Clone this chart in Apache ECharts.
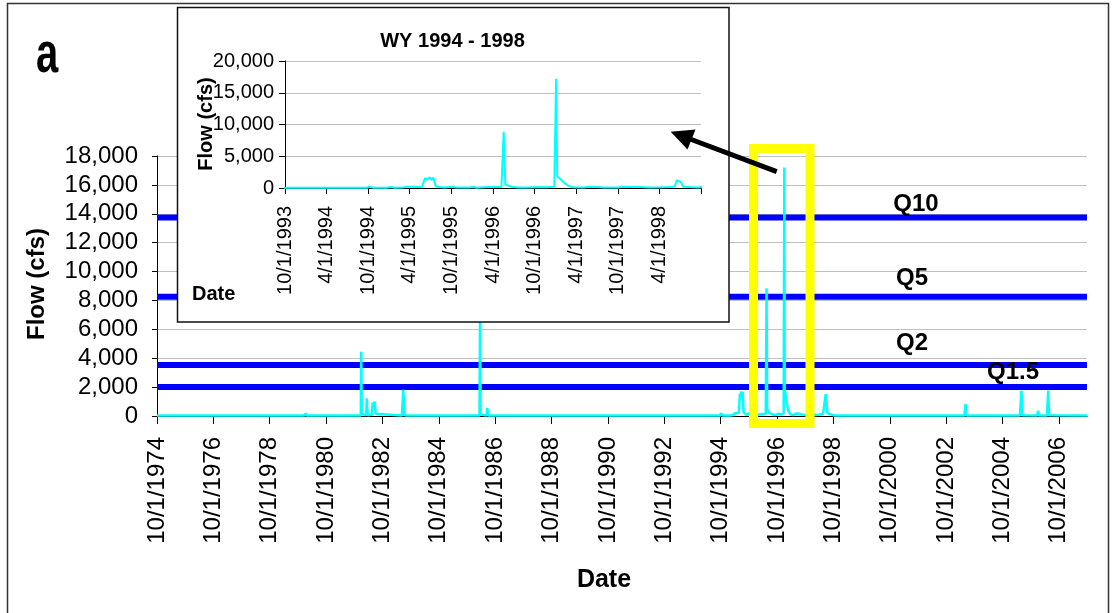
<!DOCTYPE html>
<html><head><meta charset="utf-8">
<script src="https://cdn.jsdelivr.net/npm/echarts@6/dist/echarts.min.js"></script>
<style>html,body{margin:0;padding:0;background:#fff}#c{width:1112px;height:613px}</style>
</head><body><div id="c"></div>
<script>
// ---- data ----
const flowDates = [
 '1974-10-01','1977-03-01','1979-12-20','1980-01-10','1980-01-25',
 '1981-12-24','1981-12-30','1982-01-05','1982-01-20','1982-03-05','1982-03-12','1982-03-22',
 '1982-05-15','1982-05-28','1982-06-08','1982-06-22','1982-07-05','1982-07-25',
 '1983-06-10','1983-06-28','1983-07-15','1983-08-10',
 '1986-03-12','1986-03-19','1986-03-26','1986-04-10','1986-06-12','1986-06-21','1986-07-01',
 '1993-10-01','1994-09-25','1994-10-05','1994-10-25','1994-12-20','1995-01-10','1995-01-25',
 '1995-03-01','1995-03-15','1995-04-10','1995-05-05','1995-05-25','1995-06-08','1995-06-18',
 '1995-06-28','1995-07-06','1995-07-14','1995-07-25','1995-08-10','1995-09-01','1995-10-05',
 '1995-10-25','1995-12-15','1996-01-05','1996-01-20','1996-02-20','1996-03-10','1996-04-05',
 '1996-05-08','1996-05-18','1996-05-25','1996-06-08','1996-06-25','1996-07-20','1996-09-01',
 '1996-10-15','1996-11-20','1996-12-26','1997-01-03','1997-01-08','1997-01-20','1997-02-05',
 '1997-02-25','1997-03-20','1997-05-01','1997-06-01','1997-07-10','1997-08-01','1997-10-01',
 '1997-10-20','1997-12-01','1998-01-10','1998-02-15','1998-04-10','1998-05-20','1998-06-08',
 '1998-06-17','1998-06-25','1998-07-05','1998-07-15','1998-08-10','1998-09-20','1998-10-01',
 '1998-10-20','2003-05-25','2003-06-10','2003-06-22','2005-05-15','2005-06-03','2005-06-15',
 '2005-12-25','2006-01-05','2006-01-15','2006-05-01','2006-05-16','2006-05-28','2007-09-30'
];
const flowValues = [
 30,40,30,180,30,
 40,4450,150,40,50,1230,60,
 80,950,600,1000,150,30,
 40,1810,60,30,
 40,7500,100,40,40,560,40,
 30,30,200,40,40,150,40,
 60,180,200,160,200,1550,1300,
 1700,1250,1650,250,150,80,200,
 60,60,150,50,120,160,140,
 150,8850,500,350,200,80,60,
 150,100,180,17200,1800,1450,900,
 350,120,60,180,150,60,60,
 180,140,160,60,100,160,250,
 1250,1520,900,200,150,80,150,
 40,40,840,40,40,1740,60,
 40,370,40,40,1760,60,30
];
const mainTickDates = ['1974-10-01','1976-10-01','1978-10-01','1980-10-01','1982-10-01','1984-10-01',
 '1986-10-01','1988-10-01','1990-10-01','1992-10-01','1994-10-01','1996-10-01','1998-10-01',
 '2000-10-01','2002-10-01','2004-10-01','2006-10-01'];
const mainRange = ['1974-10-01','2007-10-01'];
const insetTickDates = ['1993-10-01','1994-04-01','1994-10-01','1995-04-01','1995-10-01','1996-04-01',
 '1996-10-01','1997-04-01','1997-10-01','1998-04-01','1998-10-01'];
const insetLabelDates = ['1993-10-01','1994-04-01','1994-10-01','1995-04-01','1995-10-01','1996-04-01',
 '1996-10-01','1997-04-01','1997-10-01','1998-04-01'];
const insetRange = ['1993-10-01','1998-10-01'];
const qNames = ['Q10','Q5','Q2','Q1.5'];
const qValues = [13750, 8250, 3530, 2000];

// ---- helpers ----
function ts(s){const p=s.split('-').map(Number);return Date.UTC(p[0],p[1]-1,p[2]);}
function fmtDate(v){const d=new Date(v);return (d.getUTCMonth()+1)+'/'+d.getUTCDate()+'/'+d.getUTCFullYear();}
function fmtNum(v){return Math.round(v).toLocaleString('en-US');}
const FONT = "'Liberation Sans', Arial, sans-serif";
const seriesData = flowDates.map((d,i)=>[ts(d), flowValues[i]]);
const xMin = ts(mainRange[0]), xMax = ts(mainRange[1]);

const chart = echarts.init(document.getElementById('c'), null, {renderer:'canvas'});

const qSeries = qValues.map((v,i)=>({
  name:qNames[i], type:'line', xAxisIndex:0, yAxisIndex:0, z:1,
  data:[[xMin,v],[xMax,v]], showSymbol:false, silent:true,
  lineStyle:{color:'#0000ff', width:6}
}));

const qLabelPos = [[916,204],[912,278],[912,343],[1013,372]];

const option = {
  backgroundColor:'#fff',
  animation:false,
  textStyle:{fontFamily:FONT},
  grid:[
    {left:157, top:156, width:930, height:260, outerBoundsMode:'none', containLabel:false},
    {left:285, top:61, width:416, height:127, outerBoundsMode:'none', containLabel:false, z:20}
  ],
  xAxis:[
    {type:'value', gridIndex:0, min:xMin, max:xMax,
     axisLine:{show:true, onZero:false, lineStyle:{color:'#000', width:1}},
     axisTick:{show:true, length:8, lineStyle:{color:'#000'}, customValues:mainTickDates.map(ts)},
     axisLabel:{show:true, rotate:90, margin:21, fontSize:24, color:'#000', fontFamily:FONT,
       customValues:mainTickDates.map(ts), formatter:fmtDate},
     splitLine:{show:false}},
    {type:'value', gridIndex:1, min:ts(insetRange[0]), max:ts(insetRange[1]), z:20,
     axisLine:{show:true, onZero:false, lineStyle:{color:'#000', width:1}},
     axisTick:{show:true, length:6, lineStyle:{color:'#000'}, customValues:insetTickDates.map(ts)},
     axisLabel:{show:true, rotate:90, margin:18, fontSize:20, color:'#000', fontFamily:FONT,
       customValues:insetLabelDates.map(ts), formatter:fmtDate},
     splitLine:{show:false}}
  ],
  yAxis:[
    {type:'value', gridIndex:0, min:0, max:18000, interval:2000,
     axisLine:{show:true, lineStyle:{color:'#000', width:1}},
     axisTick:{show:true, length:5, lineStyle:{color:'#000'}},
     axisLabel:{show:true, margin:19, fontSize:24, color:'#000', fontFamily:FONT, formatter:fmtNum},
     splitLine:{show:true, lineStyle:{color:'#c0c0c0', width:1}}},
    {type:'value', gridIndex:1, min:0, max:20000, interval:5000, z:20,
     axisLine:{show:true, lineStyle:{color:'#000', width:1}},
     axisTick:{show:true, length:6, lineStyle:{color:'#000'}},
     axisLabel:{show:true, margin:11, fontSize:20, color:'#000', fontFamily:FONT, formatter:fmtNum},
     splitLine:{show:true, lineStyle:{color:'#c0c0c0', width:1}}}
  ],
  series: qSeries.concat([
    {name:'Flow', type:'line', xAxisIndex:0, yAxisIndex:0, z:2, data:seriesData,
     showSymbol:false, silent:true, clip:true, lineStyle:{color:'#00ffff', width:2.5}},
    {name:'Flow WY1994-1998', type:'line', xAxisIndex:1, yAxisIndex:1, z:21, data:seriesData,
     showSymbol:false, silent:true, clip:true, lineStyle:{color:'#00ffff', width:2}}
  ]),
  graphic:[
    {type:'rect', z:0, silent:true, shape:{x:7.5,y:3.5,width:1101,height:650},
     style:{fill:null, stroke:'#333', lineWidth:1.5}},
    {type:'text', z:5, x:47, y:56, scaleY:1.45, style:{text:'a', font:'bold 40px '+FONT, fill:'#000', textAlign:'center', textVerticalAlign:'middle'}},
    {type:'text', z:5, x:37, y:284, rotation:Math.PI/2, style:{text:'Flow (cfs)', font:'bold 24px '+FONT, fill:'#000', textAlign:'center', textVerticalAlign:'middle'}},
    {type:'text', z:5, x:604, y:580, style:{text:'Date', font:'bold 25px '+FONT, fill:'#000', textAlign:'center', textVerticalAlign:'middle'}}
  ].concat(qNames.map((n,i)=>({type:'text', z:5, x:qLabelPos[i][0], y:qLabelPos[i][1],
     style:{text:n, font:'bold 24px '+FONT, fill:'#000', textAlign:'center', textVerticalAlign:'middle'}})))
  .concat([
    {type:'rect', z:10, silent:true, shape:{x:177.5,y:7.5,width:551.5,height:314.5},
     style:{fill:'#fff', stroke:'#111', lineWidth:1.5}},
    {type:'text', z:25, x:452.5, y:41, style:{text:'WY 1994 - 1998', font:'bold 20px '+FONT, fill:'#000', textAlign:'center', textVerticalAlign:'middle'}},
    {type:'text', z:25, x:206, y:124, rotation:Math.PI/2, style:{text:'Flow (cfs)', font:'bold 20px '+FONT, fill:'#000', textAlign:'center', textVerticalAlign:'middle'}},
    {type:'text', z:25, x:192, y:294, style:{text:'Date', font:'bold 20px '+FONT, fill:'#000', textAlign:'left', textVerticalAlign:'middle'}},
    {type:'rect', z:30, silent:true, shape:{x:753.5,y:148.5,width:56.5,height:275},
     style:{fill:null, stroke:'#ffff00', lineWidth:9}},
    {type:'line', z:40, silent:true, shape:{x1:776.7,y1:171.7,x2:690,y2:139},
     style:{stroke:'#000', lineWidth:5}},
    {type:'polygon', z:40, silent:true, shape:{points:[[670.7,131.7],[695.5,129.5],[687.5,149.5]]},
     style:{fill:'#000'}}
  ])
};
chart.setOption(option);
</script>
</body></html>
